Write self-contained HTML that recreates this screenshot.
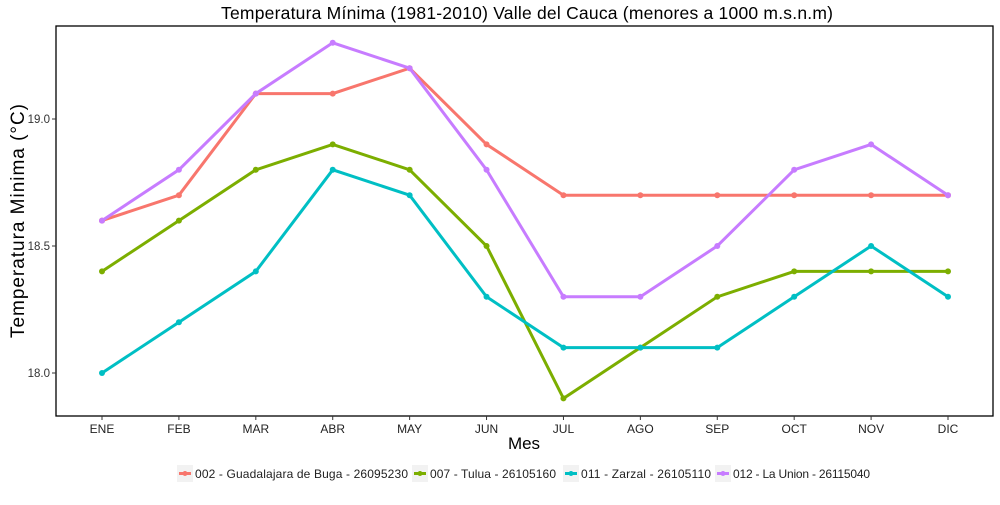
<!DOCTYPE html>
<html><head><meta charset="utf-8"><style>
body{margin:0;background:#fff;}
svg{font-family:"Liberation Sans",sans-serif;}
</style></head><body>
<svg id="c" width="1000" height="500"></svg>
<script>
const months=["ENE","FEB","MAR","ABR","MAY","JUN","JUL","AGO","SEP","OCT","NOV","DIC"];
const seriesNames=["002 - Guadalajara de Buga - 26095230","007 - Tulua - 26105160","011 - Zarzal - 26105110","012 - La Union - 26115040"];
const buga=[18.6,18.7,19.1,19.1,19.2,18.9,18.7,18.7,18.7,18.7,18.7,18.7];
const tulua=[18.4,18.6,18.8,18.9,18.8,18.5,17.9,18.1,18.3,18.4,18.4,18.4];
const zarzal=[18.0,18.2,18.4,18.8,18.7,18.3,18.1,18.1,18.1,18.3,18.5,18.3];
const launion=[18.6,18.8,19.1,19.3,19.2,18.8,18.3,18.3,18.5,18.8,18.9,18.7];
const yTicks=[18.0,18.5,19.0];
const colors=["#F8766D","#7CAE00","#00BFC4","#C77CFF"];
const all=[buga,tulua,zarzal,launion];
const NS="http://www.w3.org/2000/svg",svg=document.getElementById('c');
function mk(t,a,p){const e=document.createElementNS(NS,t);for(const k in a)e.setAttribute(k,a[k]);(p||svg).appendChild(e);return e;}
const L=56,R=993,T=26,B=416;
const x=i=>102+i*(948-102)/(months.length-1);
const y=v=>373-(v-18)*254;
let e=mk('text',{x:527,y:19,'text-anchor':'middle','font-size':17.5,textLength:612});e.textContent="Temperatura Mínima (1981-2010) Valle del Cauca (menores a 1000 m.s.n.m)";

e=mk('rect',{x:L,y:T,width:R-L,height:B-T,fill:'#fff',stroke:'#000','stroke-width':1.3});

yTicks.forEach(v=>{mk('line',{x1:L-4,x2:L,y1:y(v),y2:y(v),stroke:'#333'});
 const t=mk('text',{x:L-6,y:y(v)+4,'text-anchor':'end','font-size':11.5,fill:'#333'});t.textContent=v.toFixed(1);
 });
months.forEach((m,i)=>{mk('line',{x1:x(i),x2:x(i),y1:B,y2:B+4,stroke:'#333'});
 const t=mk('text',{x:x(i),y:B+17,'text-anchor':'middle','font-size':12,fill:'#222'});t.textContent=m;
 });
e=mk('text',{x:524,y:449,'text-anchor':'middle','font-size':17});e.textContent="Mes";

e=mk('text',{x:24,y:221,'text-anchor':'middle','font-size':19,textLength:234,transform:'rotate(-90 24 221)'});e.textContent="Temperatura Minima (°C)";

all.forEach((s,k)=>{const g=mk('g',{});
 
 mk('polyline',{points:s.map((v,i)=>x(i)+','+y(v)).join(' '),fill:'none',stroke:colors[k],'stroke-width':3},g);
 s.forEach((v,i)=>{const c=mk('circle',{cx:x(i),cy:y(v),r:3,fill:colors[k]},g);
  });});
const lx=[177,412,563,715];
const lw=[213,126,130,137];
seriesNames.forEach((n,k)=>{const g=mk('g',{});
 
 mk('rect',{x:lx[k],y:465,width:16,height:17,fill:'#f2f2f2'},g);
 mk('line',{x1:lx[k]+2,x2:lx[k]+14,y1:473.5,y2:473.5,stroke:colors[k],'stroke-width':3},g);
 mk('circle',{cx:lx[k]+8,cy:473.5,r:2.5,fill:colors[k]},g);
 const t=mk('text',{x:lx[k]+18,y:478,'font-size':12,fill:'#222',textLength:lw[k]},g);t.textContent=n;});
</script>
</body></html>
